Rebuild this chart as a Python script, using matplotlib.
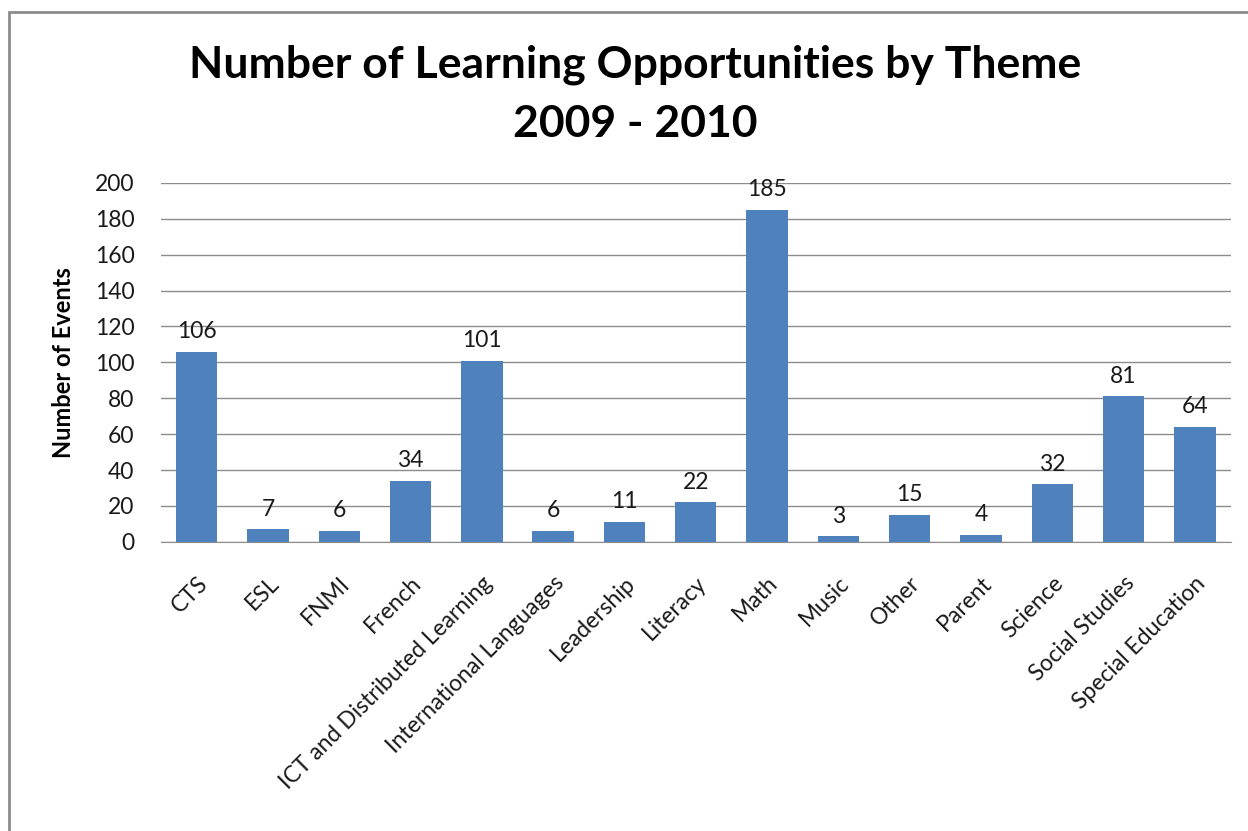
import matplotlib.pyplot as plt
from matplotlib.patches import Rectangle

themes = ['CTS', 'ESL', 'FNMI', 'French', 'ICT and Distributed Learning',
          'International Languages', 'Leadership', 'Literacy', 'Math', 'Music',
          'Other', 'Parent', 'Science', 'Social Studies', 'Special Education']
events = [106, 7, 6, 34, 101, 6, 11, 22, 185, 3, 15, 4, 32, 81, 64]
y_ticks = [0, 20, 40, 60, 80, 100, 120, 140, 160, 180, 200]

plt.rcParams['font.family'] = ['Lato', 'DejaVu Sans']

fig = plt.figure(figsize=(12.48, 8.31), dpi=100)
ax = fig.add_axes([0.129, 0.348, 0.857, 0.432])

x = range(len(themes))
bars = ax.bar(x, events, width=0.58, color='#4F81BD', zorder=3)
for b, v in zip(bars, events):
    ax.annotate(str(v), (b.get_x() + b.get_width() / 2, v), xytext=(0, 7),
                textcoords='offset points', ha='center', va='bottom',
                fontsize=16.5, color='#1a1a1a', zorder=4)

ax.set_xlim(-0.5, len(themes) - 0.5)
ax.set_ylim(0, 200)
ax.set_yticks(y_ticks)
ax.set_yticklabels([str(t) for t in y_ticks], fontsize=16.5)
ax.set_xticks(list(x))
ax.set_xticklabels(themes, rotation=45, ha='right', rotation_mode='anchor', fontsize=16.5)
ax.tick_params(axis='both', length=0, colors='#1a1a1a')
ax.tick_params(axis='y', pad=19)
ax.tick_params(axis='x', pad=22)
ax.grid(axis='y', color='#8c8c8c', linewidth=1, zorder=0)
for s in ['left', 'right', 'top']:
    ax.spines[s].set_visible(False)
ax.spines['bottom'].set_color('#8c8c8c')
ax.set_ylabel('Number of Events', fontsize=17, fontweight='bold', labelpad=14)

fig.text(0.509, 0.922, 'Number of Learning Opportunities by Theme', ha='center', va='center',
         fontsize=32, fontweight='bold')
fig.text(0.509, 0.851, '2009 - 2010', ha='center', va='center', fontsize=32, fontweight='bold')

# chart frame (cut off on right and bottom)
fig.patches.append(Rectangle((9 / 1248, -0.05), 1.1, 1 - 12 / 831 + 0.05, transform=fig.transFigure,
                             fill=False, edgecolor='#8c8c8c', linewidth=2))

fig.savefig('out.png', dpi=100)
